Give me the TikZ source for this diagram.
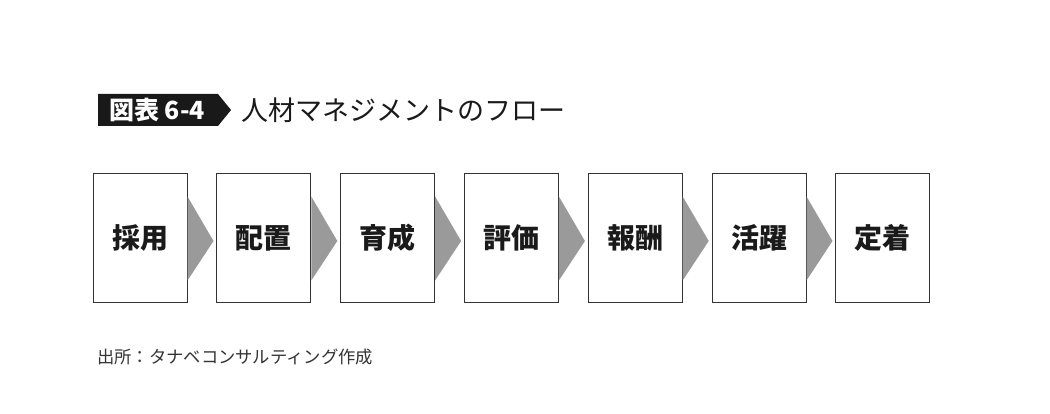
\documentclass[tikz,border=0pt]{standalone}
\usepackage{fontspec}
\setmainfont{Noto Sans CJK JP}
\usetikzlibrary{calc}
\definecolor{arrowgray}{HTML}{9A9A9A}
\definecolor{boxline}{HTML}{333333}
\definecolor{txt}{HTML}{1A1A1A}
\tikzset{
  stepbox/.style={draw=boxline, line width=1pt, fill=white, minimum width=94pt, minimum height=128pt, inner sep=0pt, font=\fontsize{28}{30}\selectfont\bfseries, text=txt},
  chev/.style={fill=arrowgray, draw=none},
}
\begin{document}
\begin{tikzpicture}[x=1pt,y=-1pt]
\useasboundingbox[fill=white] (0,0) rectangle (1050,414);
% title label
\fill[black!90] (98,94) coordinate (tl) -- (218,94) -- (231,110) coordinate (tip) -- (218,126) -- (98,126) -- cycle;
\node[text=white, font=\fontsize{25}{28}\selectfont\bfseries, anchor=center] (lab) at (157,110) {図表 6-4};
\node[text=txt, font=\fontsize{27}{30}\selectfont, anchor=west, inner sep=0pt] (title) at (241,110) {人材マネジメントのフロー};
% boxes
\foreach \t [count=\i] in {採用,配置,育成,評価,報酬,活躍,定着}{
  \node[stepbox] (b\i) at ({140+123.8*(\i-1)},238) {\raisebox{-2pt}{\t}};
}
\foreach \i in {1,...,6}{
  \fill[arrowgray] ($(b\i.north east)+(0,23)$) -- ($(b\i.east)+(26,3)$) -- ($(b\i.south east)+(0,-22)$) -- cycle;
}
% source note
\node[text=black!80, font=\fontsize{17.3}{20}\selectfont, anchor=west, inner sep=0pt] (src) at (97,357) {出所：タナベコンサルティング作成};
\end{tikzpicture}
\end{document}
